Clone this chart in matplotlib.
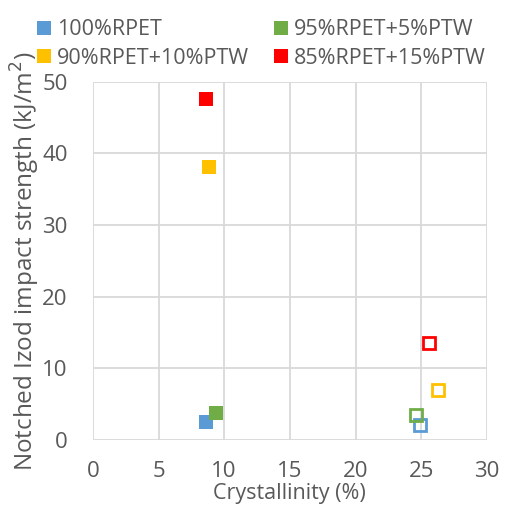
import numpy as np
import matplotlib.pyplot as plt

# data
labels      = ['100%RPET', '95%RPET+5%PTW', '90%RPET+10%PTW', '85%RPET+15%PTW']
colors      = ['#5B9BD5', '#70AD47', '#FFC000', '#FF0000']
cryst_fill  = [8.6, 9.4, 8.85, 8.6]
izod_fill   = [2.5, 3.8, 38.1, 47.6]
cryst_open  = [24.9, 24.6, 26.3, 25.6]
izod_open   = [2.1, 3.5, 7.0, 13.5]

plt.rcParams['font.family'] = ['Open Sans', 'DejaVu Sans']
txt_color = '#595959'

fig = plt.figure(figsize=(5.13, 5.12), dpi=100)
ax = fig.add_axes([0.181, 0.141, 0.768, 0.699])

handles = []
for i in range(len(labels)):
    h, = ax.plot(cryst_fill[i], izod_fill[i], 's', color=colors[i],
                 markersize=10, markeredgewidth=0, label=labels[i], zorder=3)
    ax.plot(cryst_open[i], izod_open[i], 's', markerfacecolor='none',
            markeredgecolor=colors[i], markersize=9, markeredgewidth=2, zorder=3)
    handles.append(h)

ax.set_xlim(0, 30)
ax.set_ylim(0, 50)
ax.set_xticks(np.arange(0, 31, 5))
ax.set_yticks(np.arange(0, 51, 10))
ax.grid(True, color='#D9D9D9', linewidth=1.3)
ax.set_axisbelow(True)
for s in ax.spines.values():
    s.set_visible(False)
ax.tick_params(length=0, labelsize=16, colors=txt_color)
ax.tick_params(axis='y', pad=18)
ax.tick_params(axis='x', pad=15)
ax.set_xlabel('Crystallinity (%)', fontsize=15.5, color=txt_color, labelpad=1)
ax.set_ylabel('Notched Izod impact strength (kJ/m$^2$)', fontsize=17.5,
              color=txt_color, labelpad=0)

# legend is filled row-wise in the reference, matplotlib fills column-wise
order = [0, 2, 1, 3]
fig.legend(handles=[handles[k] for k in order], ncol=2, loc='upper left',
           bbox_to_anchor=(0.035, 1.0), frameon=False, fontsize=15.5,
           labelcolor=txt_color, handlelength=0.6, handletextpad=0.3,
           columnspacing=1.2, labelspacing=0.35, markerscale=1.0)

fig.savefig('out.png', dpi=100)
